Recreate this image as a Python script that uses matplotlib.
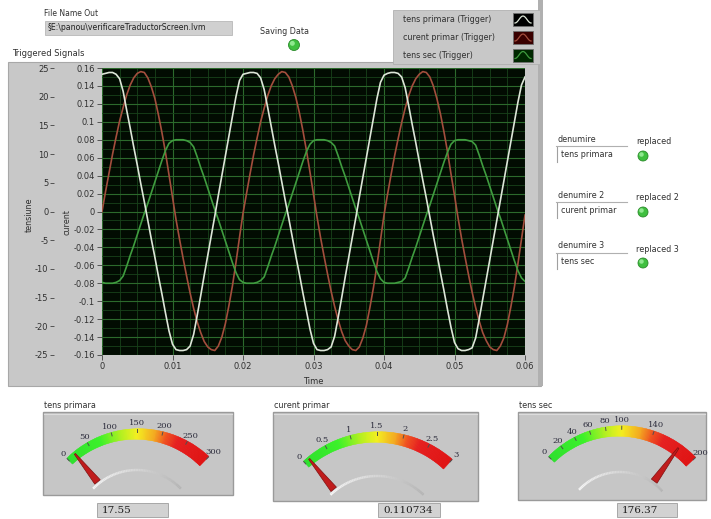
import numpy as np
import matplotlib
matplotlib.use("Agg")
import matplotlib.pyplot as plt
from matplotlib.patches import Rectangle, Polygon, Circle
from matplotlib.colors import LinearSegmentedColormap, to_rgb

plt.rcParams['axes.unicode_minus'] = False
plt.rcParams['font.family'] = ['DejaVu Sans']

# ---------------- data ----------------
time_s = np.arange(121) / 2000.0   # sampling grid, 0.5 ms steps

tens_primara = [
    0.153, 0.154, 0.155, 0.155, 0.153, 0.148, 0.134, 0.113, 0.093, 0.072,
    0.052, 0.031, 0.011, -0.010, -0.031, -0.051, -0.072, -0.092, -0.113, -0.133,
    -0.148, -0.154, -0.155, -0.155, -0.154, -0.150, -0.137, -0.116, -0.094, -0.071,
    -0.049, -0.027, -0.005, 0.018, 0.040, 0.062, 0.084, 0.106, 0.128, 0.146,
    0.153, 0.154, 0.155, 0.155, 0.154, 0.149, 0.136, 0.116, 0.095, 0.074,
    0.054, 0.033, 0.012, -0.008, -0.029, -0.050, -0.070, -0.091, -0.111, -0.131,
    -0.147, -0.154, -0.155, -0.155, -0.154, -0.151, -0.139, -0.118, -0.096, -0.073,
    -0.051, -0.029, -0.007, 0.016, 0.038, 0.060, 0.082, 0.104, 0.126, 0.144,
    0.152, 0.154, 0.155, 0.155, 0.154, 0.150, 0.138, 0.118, 0.097, 0.077,
    0.056, 0.035, 0.015, -0.006, -0.027, -0.047, -0.068, -0.088, -0.109, -0.129,
    -0.146, -0.153, -0.155, -0.155, -0.154, -0.152, -0.141, -0.120, -0.098, -0.076,
    -0.054, -0.032, -0.010, 0.012, 0.034, 0.056, 0.078, 0.100, 0.122, 0.141,
    0.150]
curent_primar = [
    0.000, 0.022, 0.043, 0.064, 0.083, 0.101, 0.116, 0.130, 0.141, 0.149,
    0.154, 0.156, 0.155, 0.149, 0.139, 0.126, 0.108, 0.088, 0.066, 0.041,
    0.016, -0.009, -0.031, -0.052, -0.072, -0.091, -0.108, -0.123, -0.135, -0.145,
    -0.151, -0.154, -0.155, -0.150, -0.140, -0.125, -0.105, -0.083, -0.057, -0.029,
    -0.002, 0.020, 0.042, 0.063, 0.082, 0.100, 0.115, 0.129, 0.140, 0.148,
    0.153, 0.156, 0.155, 0.150, 0.140, 0.127, 0.110, 0.090, 0.068, 0.044,
    0.019, -0.006, -0.029, -0.050, -0.070, -0.089, -0.106, -0.121, -0.134, -0.144,
    -0.150, -0.154, -0.155, -0.151, -0.141, -0.127, -0.107, -0.085, -0.060, -0.032,
    -0.004, 0.019, 0.041, 0.062, 0.081, 0.099, 0.115, 0.129, 0.140, 0.148,
    0.153, 0.156, 0.155, 0.150, 0.140, 0.126, 0.109, 0.089, 0.067, 0.042,
    0.018, -0.007, -0.030, -0.051, -0.071, -0.090, -0.107, -0.122, -0.135, -0.144,
    -0.151, -0.154, -0.155, -0.150, -0.141, -0.126, -0.106, -0.084, -0.058, -0.031,
    -0.004]
tens_sec = [
    -0.079, -0.080, -0.080, -0.080, -0.079, -0.077, -0.072, -0.061, -0.049, -0.038,
    -0.026, -0.014, -0.002, 0.009, 0.021, 0.033, 0.045, 0.057, 0.068, 0.076,
    0.079, 0.080, 0.080, 0.080, 0.079, 0.077, 0.072, 0.061, 0.049, 0.038,
    0.026, 0.014, 0.002, -0.009, -0.021, -0.033, -0.045, -0.057, -0.068, -0.076,
    -0.079, -0.080, -0.080, -0.080, -0.079, -0.077, -0.073, -0.062, -0.050, -0.039,
    -0.027, -0.015, -0.003, 0.008, 0.020, 0.032, 0.044, 0.056, 0.067, 0.075,
    0.079, 0.080, 0.080, 0.080, 0.079, 0.077, 0.073, 0.062, 0.050, 0.039,
    0.027, 0.015, 0.003, -0.008, -0.020, -0.032, -0.044, -0.056, -0.067, -0.075,
    -0.079, -0.080, -0.080, -0.080, -0.079, -0.078, -0.074, -0.063, -0.051, -0.040,
    -0.028, -0.016, -0.004, 0.007, 0.019, 0.031, 0.043, 0.055, 0.066, 0.075,
    0.079, 0.080, 0.080, 0.080, 0.079, 0.078, 0.074, 0.063, 0.051, 0.040,
    0.028, 0.016, 0.004, -0.007, -0.019, -0.031, -0.043, -0.055, -0.066, -0.074,
    -0.078]

curent_ticks = [0.16, 0.14, 0.12, 0.1, 0.08, 0.06, 0.04, 0.02, 0, -0.02, -0.04, -0.06,
                -0.08, -0.1, -0.12, -0.14, -0.16]
tensiune_ticks = [25, 20, 15, 10, 5, 0, -5, -10, -15, -20, -25]
time_ticks = [0, 0.01, 0.02, 0.03, 0.04, 0.05, 0.06]

legend_names = ["tens primara (Trigger)", "curent primar (Trigger)", "tens sec (Trigger)"]
series_colors = ['#dde6d8', '#a34e3d', '#3f9c3f']
swatch_bg = ['#000000', '#3a0000', '#002800']

gauge_titles = ["tens primara", "curent primar", "tens sec"]
gauge_values = [17.55, 0.110734, 176.37]
gauge_max = [300, 3, 200]
gauge_scale_labels = [[0, 50, 100, 150, 200, 250, 300],
                      [0, 0.5, 1, 1.5, 2, 2.5, 3],
                      [0, 20, 40, 60, 80, 100, 140, 200]]

denumire_labels = ["denumire", "denumire 2", "denumire 3"]
denumire_values = ["tens primara", "curent primar", "tens sec"]
replaced_labels = ["replaced", "replaced 2", "replaced 3"]
file_path = "\u00a7E:\\panou\\verificareTraductorScreen.lvm"

# ---------------- figure ----------------
W, H = 711, 519
fig = plt.figure(figsize=(W / 100, H / 100), dpi=100)
fig.patch.set_facecolor('white')
bg = fig.add_axes([0, 0, 1, 1], zorder=0)
bg.set_xlim(0, W)
bg.set_ylim(H, 0)
bg.axis('off')

TXT = '#303030'

# file name / saving data
bg.text(44, 13, "File Name Out", fontsize=5.5, color=TXT, va='center')
bg.add_patch(Rectangle((45, 21), 187, 14, fc='#d0d0d0', ec='#b8b8b8', lw=0.6))
bg.text(48, 28, file_path, fontsize=5.6, color='#202020', va='center')
bg.text(285, 31.5, "Saving Data", fontsize=5.8, color=TXT, ha='center', va='center')


def led(x, y, r):
    bg.add_patch(Circle((x, y), r, fc='#3fbf3f', ec='#2a8a2a', lw=0.6, zorder=5))
    bg.add_patch(Circle((x - r * 0.3, y - r * 0.3), r * 0.45, fc='#8fe88f', ec='none', zorder=6))


led(294, 45, 5.5)

# graph panel
bg.add_patch(Rectangle((8, 62), 533, 324, fc='#c8c8c8', ec='#a8a8a8', lw=0.8))
bg.add_patch(Rectangle((538, 0), 5, 386, fc='#b0b0b0', ec='none'))
bg.text(12, 53, "Triggered Signals", fontsize=6, color=TXT, va='center')

# legend box
bg.add_patch(Rectangle((393, 10), 147, 54, fc='#c8c8c8', ec='#b0b0b0', lw=0.6))
leg_y = [19.5, 37.5, 55]
for name, col, sbg, yy in zip(legend_names, series_colors, swatch_bg, leg_y):
    bg.text(403, yy, name, fontsize=5.8, color=TXT, va='center')
    bg.add_patch(Rectangle((513, yy - 6.5), 20, 13, fc=sbg, ec='#707070', lw=0.6))
    ix = np.linspace(515, 531, 20)
    iy = yy + 3.5 * np.cos((ix - 515) / 16 * 2 * np.pi)
    bg.plot(ix, iy, color=col, lw=0.9)

# axis labels
bg.text(29, 215, "tensiune", fontsize=5.8, rotation=90, color=TXT, ha='center', va='center')
bg.text(67, 222, "curent", fontsize=5.8, rotation=90, color=TXT, ha='center', va='center')
bg.text(313, 381, "Time", fontsize=6, color=TXT, ha='center', va='center')

# ---------------- main plot ----------------
L, R_, T, B = 102, 525, 68, 355
ax = fig.add_axes([L / W, (H - B) / H, (R_ - L) / W, (B - T) / H], zorder=2)
ax.set_facecolor('#020c02')
ax.set_xlim(0, 0.06)
ax.set_ylim(-0.16, 0.16)
ax.set_xticks(time_ticks)
ax.set_xticklabels([f"{v:g}" for v in time_ticks])
ax.set_yticks(curent_ticks)
ax.set_yticklabels([f"{v:g}" for v in curent_ticks])
ax.set_xticks(np.arange(0, 0.0601, 0.0025), minor=True)
ax.set_yticks(np.arange(-0.16, 0.1601, 0.01), minor=True)
ax.grid(which='major', color='#2c6a2c', lw=0.8)
ax.grid(which='minor', color='#18421a', lw=0.6)
ax.tick_params(which='major', labelsize=6, colors='#404040', labelcolor=TXT,
               length=3.5, width=0.6, pad=1.5)
ax.tick_params(which='minor', length=0)
for s in ax.spines.values():
    s.set_visible(False)
ax.set_axisbelow(True)

ax.plot(time_s, curent_primar, color=series_colors[1], lw=1.2)
ax.plot(time_s, tens_sec, color=series_colors[2], lw=1.2)
ax.plot(time_s, tens_primara, color=series_colors[0], lw=1.2)

ax2 = ax.twinx()
ax2.set_ylim(-25, 25)
ax2.yaxis.tick_left()
ax2.set_yticks(tensiune_ticks)
ax2.set_yticklabels([str(v) for v in tensiune_ticks])
ax2.spines['left'].set_position(('outward', 48 * 0.72))
for s in ax2.spines.values():
    s.set_visible(False)
ax2.tick_params(axis='y', labelsize=6, colors='#404040', labelcolor=TXT,
                length=3, width=0.6, pad=1)

# ---------------- right side controls ----------------
ctl_y = [139, 195, 246]
for lab, val, rep, yy in zip(denumire_labels, denumire_values, replaced_labels, ctl_y):
    bg.text(558, yy, lab, fontsize=5.8, color=TXT, va='center')
    bg.plot([556, 627], [yy + 7, yy + 7], color='#b0b0b0', lw=0.8)
    bg.add_patch(Rectangle((557, yy + 8), 66, 15, fc='white', ec='none'))
    bg.plot([557, 557], [yy + 8, yy + 23], color='#a0a0a0', lw=0.8)
    bg.text(561, yy + 15.5, val, fontsize=5.8, color=TXT, va='center')
    bg.text(636, yy + 3, rep, fontsize=5.8, color=TXT, va='center')
    led(643, yy + 17, 5)

# ---------------- gauges ----------------
gauge_cmap = LinearSegmentedColormap.from_list(
    'g', [(0.0, '#2ee02e'), (0.25, '#3cf22a'), (0.40, '#b8f020'), (0.50, '#f4f020'),
          (0.62, '#f4a820'), (0.70, '#f05020'), (0.78, '#e62020'), (1.0, '#e01414')])

gauge_geo = [
    dict(panel=(43, 412, 190, 83), c=(137, 531), R=97, th=(134, 46), rin=61, box=(97, 71)),
    dict(panel=(273, 412, 205, 89), c=(377, 543), R=106, th=(132, 48), rin=67, box=(378, 62)),
    dict(panel=(518, 412, 188, 88), c=(620, 528), R=97, th=(135, 43), rin=56, box=(617, 60)),
]


def pt(cx, cy, r, th):
    t = np.radians(th)
    return cx + r * np.cos(t), cy - r * np.sin(t)


for title, value, vmax, labels, geo in zip(gauge_titles, gauge_values, gauge_max,
                                            gauge_scale_labels, gauge_geo):
    px, py, pw, ph = geo['panel']
    cx, cy = geo['c']
    R = geo['R']
    th0, th1 = geo['th']
    w0, w1 = 8.0, 13.0
    bg.add_patch(Rectangle((px, py), pw, ph, fc='#c6c6c6', ec='#9a9a9a', lw=1))
    bg.plot([px + 1, px + pw - 1], [py + 1.5, py + 1.5], color='#dcdcdc', lw=0.8)
    bg.text(px + 1, py - 7, title, fontsize=5.8, color=TXT, va='center')

    # inner arc (white to gray)
    n_in = 60
    ths = np.linspace(th0 + 2, th1 - 2, n_in + 1)
    c_a, c_b = np.array(to_rgb('#f6f6f6')), np.array(to_rgb('#b4b4b4'))
    for i in range(n_in):
        f = i / n_in
        xa, ya = pt(cx, cy, geo['rin'], ths[i])
        xb, yb = pt(cx, cy, geo['rin'], ths[i + 1])
        bg.plot([xa, xb], [ya, yb], color=c_a * (1 - f) + c_b * f, lw=1.8,
                solid_capstyle='butt')

    # colour band
    n = 120
    for i in range(n):
        f0, f1 = i / n, (i + 1) / n
        ta = th0 + (th1 - th0) * f0
        tb = th0 + (th1 - th0) * min(f1 + 0.003, 1.0)
        w = w0 + (w1 - w0) * (f0 + f1) / 2
        ro, ri = R + w / 2, R - w / 2
        poly = [pt(cx, cy, ri, ta), pt(cx, cy, ro, ta), pt(cx, cy, ro, tb), pt(cx, cy, ri, tb)]
        col = gauge_cmap((f0 + f1) / 2)
        bg.add_patch(Polygon(poly, closed=True, fc=col, ec=col, lw=0.3, zorder=3))

    # scale labels and tick marks
    for v in labels:
        f = v / vmax
        th = th0 + (th1 - th0) * f
        w = w0 + (w1 - w0) * f
        x0, y0 = pt(cx, cy, R + w / 2 - 3.5, th)
        x1, y1 = pt(cx, cy, R + w / 2 - 0.5, th)
        bg.plot([x0, x1], [y0, y1], color='#505050', lw=0.7, zorder=4)
        xl, yl = pt(cx, cy, R + w / 2 + 6, th)
        bg.text(xl, yl, f"{v:g}", fontsize=6, family='DejaVu Serif', color='#2c2c3c',
                ha='center', va='center', zorder=4)

    # needle
    f = value / vmax
    th = th0 + (th1 - th0) * f
    t = np.radians(th)
    ux, uy = np.cos(t), -np.sin(t)
    qx, qy = -uy, ux
    r_base, r_tip = geo['rin'] + 2, R + 2
    bx, by = cx + r_base * ux, cy + r_base * uy
    tx, ty = cx + r_tip * ux, cy + r_tip * uy
    needle = [(bx + 3.5 * qx, by + 3.5 * qy), (tx + 0.7 * qx, ty + 0.7 * qy),
              (tx - 0.7 * qx, ty - 0.7 * qy), (bx - 3.5 * qx, by - 3.5 * qy)]
    bg.add_patch(Polygon(needle, closed=True, fc='#c01c1c', ec='#801010', lw=0.5, zorder=6))

    # numeric display
    bxl, bw = geo['box']
    bg.add_patch(Rectangle((bxl, 503), bw, 14, fc='#d2d2d2', ec='#a8a8a8', lw=0.7))
    bg.text(bxl + 5, 510.5, f"{value:g}", fontsize=7.5, family='DejaVu Serif',
            color='#1c1c1c', va='center', ha='left')

fig.savefig('out.png', dpi=100, facecolor='white')
